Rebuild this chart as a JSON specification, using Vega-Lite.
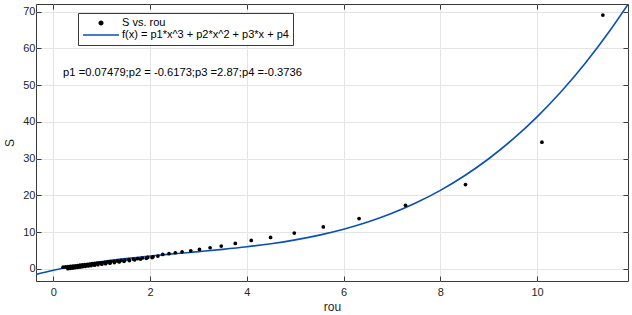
{
  "$schema": "https://vega.github.io/schema/vega-lite/v6.json",
  "width": 592,
  "height": 277,
  "padding": {"left": 36, "top": 4, "right": 4, "bottom": 34},
  "autosize": {"type": "none"},
  "background": "white",
  "config": {
    "view": {"stroke": "#3a3a3a", "strokeWidth": 1},
    "font": "Liberation Sans",
    "axis": {"labelFont": "Liberation Sans", "titleFont": "Liberation Sans", "labelColor": "#262626", "titleColor": "#262626", "labelFontSize": 11, "titleFontSize": 12, "titleFontWeight": "normal", "gridColor": "#e4e4e4", "gridWidth": 1, "tickColor": "#3a3a3a", "domainColor": "#3a3a3a"}
  },
  "datasets": {
    "fit": [
      {"rou": -0.36, "S": -1.49, "series": "f(x) = p1*x^3 + p2*x^2 + p3*x + p4"},
      {"rou": 0, "S": -0.374, "series": "f(x) = p1*x^3 + p2*x^2 + p3*x + p4"},
      {"rou": 0.5, "S": 0.916, "series": "f(x) = p1*x^3 + p2*x^2 + p3*x + p4"},
      {"rou": 1, "S": 1.954, "series": "f(x) = p1*x^3 + p2*x^2 + p3*x + p4"},
      {"rou": 1.5, "S": 2.795, "series": "f(x) = p1*x^3 + p2*x^2 + p3*x + p4"},
      {"rou": 2, "S": 3.496, "series": "f(x) = p1*x^3 + p2*x^2 + p3*x + p4"},
      {"rou": 2.5, "S": 4.112, "series": "f(x) = p1*x^3 + p2*x^2 + p3*x + p4"},
      {"rou": 3, "S": 4.700, "series": "f(x) = p1*x^3 + p2*x^2 + p3*x + p4"},
      {"rou": 3.5, "S": 5.316, "series": "f(x) = p1*x^3 + p2*x^2 + p3*x + p4"},
      {"rou": 4, "S": 6.016, "series": "f(x) = p1*x^3 + p2*x^2 + p3*x + p4"},
      {"rou": 4.5, "S": 6.856, "series": "f(x) = p1*x^3 + p2*x^2 + p3*x + p4"},
      {"rou": 5, "S": 7.893, "series": "f(x) = p1*x^3 + p2*x^2 + p3*x + p4"},
      {"rou": 5.5, "S": 9.181, "series": "f(x) = p1*x^3 + p2*x^2 + p3*x + p4"},
      {"rou": 6, "S": 10.778, "series": "f(x) = p1*x^3 + p2*x^2 + p3*x + p4"},
      {"rou": 6.5, "S": 12.740, "series": "f(x) = p1*x^3 + p2*x^2 + p3*x + p4"},
      {"rou": 7, "S": 15.122, "series": "f(x) = p1*x^3 + p2*x^2 + p3*x + p4"},
      {"rou": 7.5, "S": 17.980, "series": "f(x) = p1*x^3 + p2*x^2 + p3*x + p4"},
      {"rou": 8, "S": 21.372, "series": "f(x) = p1*x^3 + p2*x^2 + p3*x + p4"},
      {"rou": 8.5, "S": 25.352, "series": "f(x) = p1*x^3 + p2*x^2 + p3*x + p4"},
      {"rou": 9, "S": 29.977, "series": "f(x) = p1*x^3 + p2*x^2 + p3*x + p4"},
      {"rou": 9.5, "S": 35.303, "series": "f(x) = p1*x^3 + p2*x^2 + p3*x + p4"},
      {"rou": 10, "S": 41.386, "series": "f(x) = p1*x^3 + p2*x^2 + p3*x + p4"},
      {"rou": 10.5, "S": 48.283, "series": "f(x) = p1*x^3 + p2*x^2 + p3*x + p4"},
      {"rou": 11, "S": 56.049, "series": "f(x) = p1*x^3 + p2*x^2 + p3*x + p4"},
      {"rou": 11.5, "S": 64.740, "series": "f(x) = p1*x^3 + p2*x^2 + p3*x + p4"},
      {"rou": 11.9, "S": 72.396, "series": "f(x) = p1*x^3 + p2*x^2 + p3*x + p4"}
    ],
    "pts": [
      {"rou": 0.2, "S": 0.45, "series": "S vs. rou"},
      {"rou": 0.25, "S": 0.52, "series": "S vs. rou"},
      {"rou": 0.3, "S": 0.6, "series": "S vs. rou"},
      {"rou": 0.35, "S": 0.68, "series": "S vs. rou"},
      {"rou": 0.4, "S": 0.76, "series": "S vs. rou"},
      {"rou": 0.45, "S": 0.84, "series": "S vs. rou"},
      {"rou": 0.5, "S": 0.92, "series": "S vs. rou"},
      {"rou": 0.55, "S": 1.0, "series": "S vs. rou"},
      {"rou": 0.6, "S": 1.08, "series": "S vs. rou"},
      {"rou": 0.65, "S": 1.16, "series": "S vs. rou"},
      {"rou": 0.7, "S": 1.24, "series": "S vs. rou"},
      {"rou": 0.75, "S": 1.32, "series": "S vs. rou"},
      {"rou": 0.8, "S": 1.4, "series": "S vs. rou"},
      {"rou": 0.85, "S": 1.48, "series": "S vs. rou"},
      {"rou": 0.9, "S": 1.56, "series": "S vs. rou"},
      {"rou": 0.95, "S": 1.63, "series": "S vs. rou"},
      {"rou": 1.0, "S": 1.7, "series": "S vs. rou"},
      {"rou": 1.06, "S": 1.79, "series": "S vs. rou"},
      {"rou": 1.12, "S": 1.88, "series": "S vs. rou"},
      {"rou": 1.18, "S": 1.97, "series": "S vs. rou"},
      {"rou": 1.25, "S": 2.07, "series": "S vs. rou"},
      {"rou": 1.32, "S": 2.17, "series": "S vs. rou"},
      {"rou": 1.4, "S": 2.29, "series": "S vs. rou"},
      {"rou": 1.48, "S": 2.41, "series": "S vs. rou"},
      {"rou": 1.56, "S": 2.53, "series": "S vs. rou"},
      {"rou": 1.65, "S": 2.66, "series": "S vs. rou"},
      {"rou": 1.74, "S": 2.8, "series": "S vs. rou"},
      {"rou": 1.84, "S": 2.96, "series": "S vs. rou"},
      {"rou": 1.95, "S": 3.12, "series": "S vs. rou"},
      {"rou": 2.06, "S": 3.3, "series": "S vs. rou"},
      {"rou": 0.3, "S": 0.05, "series": "S vs. rou"},
      {"rou": 0.35, "S": 0.14, "series": "S vs. rou"},
      {"rou": 0.4, "S": 0.23, "series": "S vs. rou"},
      {"rou": 0.45, "S": 0.32, "series": "S vs. rou"},
      {"rou": 0.5, "S": 0.41, "series": "S vs. rou"},
      {"rou": 0.55, "S": 0.5, "series": "S vs. rou"},
      {"rou": 0.6, "S": 0.59, "series": "S vs. rou"},
      {"rou": 0.66, "S": 0.69, "series": "S vs. rou"},
      {"rou": 0.72, "S": 0.79, "series": "S vs. rou"},
      {"rou": 0.78, "S": 0.9, "series": "S vs. rou"},
      {"rou": 0.85, "S": 1.02, "series": "S vs. rou"},
      {"rou": 0.92, "S": 1.14, "series": "S vs. rou"},
      {"rou": 1.0, "S": 1.27, "series": "S vs. rou"},
      {"rou": 1.08, "S": 1.41, "series": "S vs. rou"},
      {"rou": 1.17, "S": 1.56, "series": "S vs. rou"},
      {"rou": 1.26, "S": 1.72, "series": "S vs. rou"},
      {"rou": 1.36, "S": 1.89, "series": "S vs. rou"},
      {"rou": 1.46, "S": 2.07, "series": "S vs. rou"},
      {"rou": 1.57, "S": 2.26, "series": "S vs. rou"},
      {"rou": 1.68, "S": 2.46, "series": "S vs. rou"},
      {"rou": 1.8, "S": 2.67, "series": "S vs. rou"},
      {"rou": 1.92, "S": 2.88, "series": "S vs. rou"},
      {"rou": 2.04, "S": 3.08, "series": "S vs. rou"},
      {"rou": 2.16, "S": 3.48, "series": "S vs. rou"},
      {"rou": 2.26, "S": 3.94, "series": "S vs. rou"},
      {"rou": 2.39, "S": 4.12, "series": "S vs. rou"},
      {"rou": 2.52, "S": 4.39, "series": "S vs. rou"},
      {"rou": 2.66, "S": 4.66, "series": "S vs. rou"},
      {"rou": 2.84, "S": 4.93, "series": "S vs. rou"},
      {"rou": 3.02, "S": 5.3, "series": "S vs. rou"},
      {"rou": 3.24, "S": 5.75, "series": "S vs. rou"},
      {"rou": 3.47, "S": 6.2, "series": "S vs. rou"},
      {"rou": 3.76, "S": 6.93, "series": "S vs. rou"},
      {"rou": 4.09, "S": 7.74, "series": "S vs. rou"},
      {"rou": 4.49, "S": 8.56, "series": "S vs. rou"},
      {"rou": 4.98, "S": 9.74, "series": "S vs. rou"},
      {"rou": 5.58, "S": 11.42, "series": "S vs. rou"},
      {"rou": 6.32, "S": 13.7, "series": "S vs. rou"},
      {"rou": 7.28, "S": 17.3, "series": "S vs. rou"},
      {"rou": 8.52, "S": 22.96, "series": "S vs. rou"},
      {"rou": 10.1, "S": 34.5, "series": "S vs. rou"},
      {"rou": 11.36, "S": 69.1, "series": "S vs. rou"}
    ],
    "note": [
      {"rou": 0.2, "S": 53.4, "label": "p1 =0.07479;p2 = -0.6173;p3 =2.87;p4 =-0.3736"}
    ]
  },
  "layer": [
    {
      "data": {"name": "fit"},
      "mark": {"type": "line", "color": "#0a4fb4", "strokeWidth": 1.6, "clip": true, "interpolate": "monotone"},
      "encoding": {
        "x": {"field": "rou", "type": "quantitative", "scale": {"domain": [-0.36, 11.88], "nice": false, "zero": false},
          "axis": {"values": [0, 2, 4, 6, 8, 10], "title": "rou", "grid": true, "domain": false, "tickSize": -5, "labelPadding": 10, "titlePadding": 4}},
        "y": {"field": "S", "type": "quantitative", "scale": {"domain": [-3.3, 72.1], "nice": false, "zero": false},
          "axis": {"values": [0, 10, 20, 30, 40, 50, 60, 70], "title": "S", "grid": true, "domain": false, "tickSize": -5, "labelPadding": 6, "titlePadding": 6}},
        "color": {"field": "series", "type": "nominal",
          "scale": {"domain": ["S vs. rou", "f(x) = p1*x^3 + p2*x^2 + p3*x + p4"], "range": ["black", "#0a4fb4"]},
          "legend": {
            "title": null, "orient": "none", "legendX": 42, "legendY": 9,
            "direction": "vertical",
            "fillColor": "white", "strokeColor": "#3a3a3a", "padding": 4,
            "labelFont": "Liberation Sans", "labelFontSize": 11, "labelColor": "black", "labelOffset": 2, "labelLimit": 0,
            "rowPadding": 0, "symbolSize": 1296, "clipHeight": 12,
            "encode": {
              "symbols": {"update": {
                "shape": {"signal": "datum.value == 'S vs. rou' ? 'circle' : 'stroke'"},
                "size": {"signal": "datum.value == 'S vs. rou' ? 12 : 1296"},
                "fill": {"signal": "datum.value == 'S vs. rou' ? 'black' : 'transparent'"},
                "stroke": {"signal": "datum.value == 'S vs. rou' ? 'transparent' : '#0a4fb4'"},
                "strokeWidth": {"value": 1.6},
                "opacity": {"value": 1}
              }}
            }
          }}
      }
    },
    {
      "data": {"name": "pts"},
      "mark": {"type": "point", "filled": true, "size": 14, "opacity": 1},
      "encoding": {
        "x": {"field": "rou", "type": "quantitative",
          "axis": {"orient": "top", "values": [0, 2, 4, 6, 8, 10], "labels": false, "title": null, "grid": false, "domain": false, "tickSize": -5}},
        "y": {"field": "S", "type": "quantitative",
          "axis": {"orient": "right", "values": [0, 10, 20, 30, 40, 50, 60, 70], "labels": false, "title": null, "grid": false, "domain": false, "tickSize": -5}},
        "color": {"field": "series", "type": "nominal"}
      }
    },
    {
      "data": {"name": "note"},
      "mark": {"type": "text", "align": "left", "baseline": "middle", "font": "Liberation Sans", "fontSize": 11.2, "color": "black"},
      "encoding": {
        "x": {"field": "rou", "type": "quantitative", "axis": null},
        "y": {"field": "S", "type": "quantitative", "axis": null},
        "text": {"field": "label"}
      }
    }
  ],
  "resolve": {"axis": {"x": "independent", "y": "independent"}}
}
